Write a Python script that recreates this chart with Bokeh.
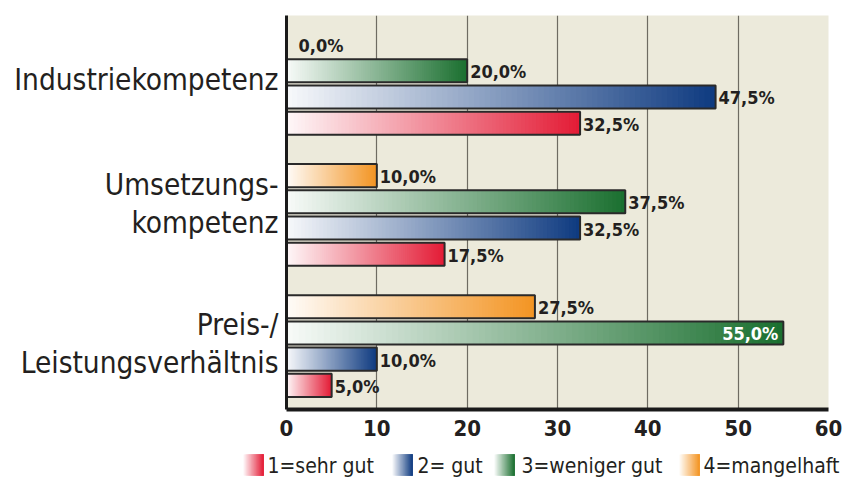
from bokeh.plotting import figure
from bokeh.models import Range1d, FixedTicker
from bokeh.embed import file_html
from bokeh.resources import INLINE
from bokeh.core.properties import value

# ---------------- data ----------------
categories = ["Industriekompetenz", "Umsetzungs-\nkompetenz", "Preis-/\nLeistungsverhältnis"]
series_names = ["4=mangelhaft", "3=weniger gut", "2= gut", "1=sehr gut"]   # top -> bottom within a group
mangelhaft = [0.0, 10.0, 27.5]
weniger_gut = [20.0, 37.5, 55.0]
gut = [47.5, 32.5, 10.0]
sehr_gut = [32.5, 17.5, 5.0]
x_ticks = [0, 10, 20, 30, 40, 50, 60]

# ---------------- style ----------------
FONT = "'DejaVu Sans Condensed', 'DejaVu Sans', sans-serif"
end_colors = {"1=sehr gut": "#E31B35", "2= gut": "#0E3A80",
              "3=weniger gut": "#1A6F2F", "4=mangelhaft": "#F39422"}
legend_order = ["1=sehr gut", "2= gut", "3=weniger gut", "4=mangelhaft"]
legend_sq_x = [243, 392, 494, 679]
legend_txt_x = [267, 417, 521, 703]
BG = "#ECEADB"
TEXT = "#231F20"
SLOTS_PER_GROUP = 5
BAR_H = 0.88
N_SLICES = 80
label_shift = [-0.155, -0.425, -0.085]


def hex2rgb(h):
    h = h.lstrip("#")
    return tuple(int(h[i:i + 2], 16) for i in (0, 2, 4))


def mix(c, t):
    r, g, b = hex2rgb(c)
    t = max(0.0, min(1.0, t))
    return "#%02x%02x%02x" % (round(255 + (r - 255) * t), round(255 + (g - 255) * t), round(255 + (b - 255) * t))


values_by_series = {"4=mangelhaft": mangelhaft, "3=weniger gut": weniger_gut,
                    "2= gut": gut, "1=sehr gut": sehr_gut}

p = figure(frame_width=542, frame_height=394, output_backend="svg", toolbar_location=None,
           x_range=Range1d(0, 60), y_range=Range1d(13.92, -1.106),
           min_border_left=286, min_border_right=16, min_border_top=15, min_border_bottom=31)
p.background_fill_color = BG
p.border_fill_color = "white"
p.outline_line_color = None

# gradient bars (each slice runs to the bar end, later slices paint over earlier ones -> no seams)
sl_l, sl_r, sl_t, sl_b, sl_c = [], [], [], [], []
ol_l, ol_r, ol_t, ol_b = [], [], [], []
lab_x, lab_y, lab_txt, lab_off = [], [], [], []
in_x, in_y, in_txt = [], [], []
for g, cat in enumerate(categories):
    for s, name in enumerate(series_names):
        v = values_by_series[name][g]
        y = g * SLOTS_PER_GROUP + s
        if v > 0:
            for i in range(N_SLICES):
                sl_l.append(v * i / N_SLICES)
                sl_r.append(v)
                sl_t.append(y - BAR_H / 2)
                sl_b.append(y + BAR_H / 2)
                sl_c.append(mix(end_colors[name], 0.03 + 0.97 * (i + 0.5) / N_SLICES))
            ol_l.append(0)
            ol_r.append(v)
            ol_t.append(y - BAR_H / 2)
            ol_b.append(y + BAR_H / 2)
        txt = ("%.1f" % v).replace(".", ",") + "%"
        if v >= 50:
            in_x.append(v)
            in_y.append(y)
            in_txt.append(txt)
        else:
            lab_x.append(v)
            lab_y.append(y)
            lab_txt.append(txt)
            lab_off.append(3 if v > 0 else 12)

p.quad(left=sl_l, right=sl_r, top=sl_t, bottom=sl_b, fill_color=sl_c, line_color=None)
p.quad(left=ol_l, right=ol_r, top=ol_t, bottom=ol_b, fill_color=None, line_color="#2A2A2A", line_width=2)

p.text(x=lab_x, y=lab_y, text=lab_txt, x_offset=lab_off, y_offset=1,
       text_font=value(FONT), text_font_size="18px", text_font_style="bold", text_color=TEXT,
       text_align="left", text_baseline="middle")
p.text(x=in_x, y=in_y, text=in_txt, x_offset=-5, y_offset=1,
       text_font=value(FONT), text_font_size="18px", text_font_style="bold", text_color="white",
       text_align="right", text_baseline="middle")

# axes
p.xaxis.ticker = FixedTicker(ticks=x_ticks)
p.xgrid.ticker = FixedTicker(ticks=x_ticks)
p.xgrid.grid_line_color = "#6E6B62"
p.xgrid.grid_line_width = 1.2
p.ygrid.grid_line_color = None
p.xaxis.axis_line_width = 4
p.xaxis.axis_line_color = "#1A1A1A"
p.xaxis.major_tick_line_color = None
p.xaxis.minor_tick_line_color = None
p.xaxis.major_label_text_font = FONT
p.xaxis.major_label_text_font_size = "22px"
p.xaxis.major_label_text_font_style = "bold"
p.xaxis.major_label_text_color = TEXT
p.xaxis.major_label_standoff = 4

y_ticks = [g * SLOTS_PER_GROUP + 1.5 + label_shift[g] for g in range(len(categories))]
p.yaxis.ticker = FixedTicker(ticks=y_ticks)
p.yaxis.major_label_overrides = {t: c for t, c in zip(y_ticks, categories)}
p.yaxis.axis_line_width = 3
p.yaxis.axis_line_color = "#1A1A1A"
p.yaxis.major_tick_line_color = None
p.yaxis.minor_tick_line_color = None
p.yaxis.major_label_text_font = FONT
p.yaxis.major_label_text_font_size = "29.5px"
p.yaxis.major_label_text_color = TEXT
p.yaxis.major_label_text_line_height = 1.12
p.yaxis.major_label_standoff = 2

# legend figure (separate root so its frame is not aligned to the chart frame)
lg = figure(width=857, height=38, output_backend="svg", toolbar_location=None,
            x_range=Range1d(0, 857), y_range=Range1d(38, 0),
            x_axis_location=None, y_axis_location=None,
            min_border_left=0, min_border_right=0, min_border_top=0, min_border_bottom=0)
lg.outline_line_color = None
lg.grid.grid_line_color = None
lg.background_fill_color = "white"
lsl_l, lsl_r, lsl_c = [], [], []
NL = 24
SQ_W = 20
for name, sx in zip(legend_order, legend_sq_x):
    for i in range(NL):
        lsl_l.append(sx + SQ_W * i / NL)
        lsl_r.append(sx + SQ_W)
        lsl_c.append(mix(end_colors[name], 0.03 + 0.97 * (i + 0.5) / NL))
lg.quad(left=lsl_l, right=lsl_r, top=[14] * len(lsl_l), bottom=[35] * len(lsl_l),
        fill_color=lsl_c, line_color=None)
lg.text(x=legend_txt_x, y=[25] * 4, text=legend_order, text_font=value(FONT),
        text_font_size="21px", text_color=TEXT, text_align="left", text_baseline="middle")

open("out.html", "w").write(file_html([p, lg], INLINE))
